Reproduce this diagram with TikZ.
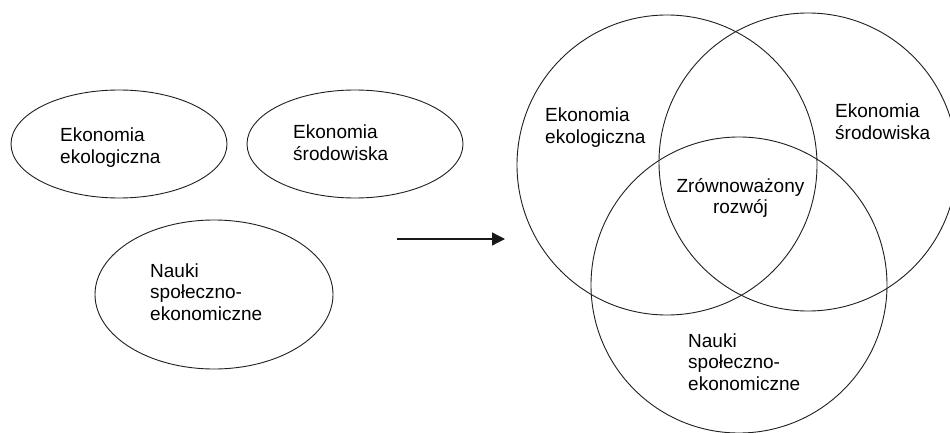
\documentclass[tikz,border=0pt]{standalone}
\usepackage{fontspec}
\setmainfont{Liberation Sans}
\usetikzlibrary{shapes.geometric,arrows.meta}
\tikzset{
  shapeline/.style={draw=black!88, line width=0.9pt},
  blob/.style={shapeline, ellipse, inner sep=0pt, minimum width=216pt, minimum height=108pt},
  ring/.style={shapeline, circle, inner sep=0pt},
  lbl/.style={inner sep=0pt, font=\fontsize{19}{21.8}\selectfont, text=black},
}
\newcommand{\tl}[1]{\begin{tabular}[t]{@{}l@{}}#1\end{tabular}}
\newcommand{\tc}[1]{\begin{tabular}[t]{@{}c@{}}#1\end{tabular}}
\begin{document}
\begin{tikzpicture}[x=1pt,y=-1pt]
\useasboundingbox[fill=white] (0,0) rectangle (950,433);
% left ellipses
\node[blob] (e1) at (119,144) {};
\node[blob] (e2) at (355,144) {};
\node[blob, minimum width=238pt, minimum height=149pt] (e3) at (214,294.5) {};
\node[lbl, anchor=base west] (t1) at (60,142) {\tl{Ekonomia\\ekologiczna}};
\node[lbl, anchor=base west] (t2) at (293,138.5) {\tl{Ekonomia\\środowiska}};
\node[lbl, anchor=base west] (t3) at (150,277) {\tl{Nauki\\społeczno-\\ekonomiczne}};
% arrow
\coordinate (a1) at (397,239);
\coordinate (a2) at (505,239);
\draw[black!90, line width=1.3pt, -{Triangle[length=13pt,width=13pt]}] (a1) -- (a2);
% venn circles
\node[ring, minimum size=300pt] (c1) at (667,165) {};
\node[ring, minimum size=298pt] (c2) at (808,162) {};
\node[ring, minimum size=296pt] (c3) at (739,285) {};
\node[lbl, anchor=base west] (v1) at (545,122) {\tl{Ekonomia\\ekologiczna}};
\node[lbl, anchor=base west] (v2) at (835,118) {\tl{Ekonomia\\środowiska}};
\node[lbl, anchor=base] (v0) at (740.5,192) {\tc{Zrównoważony\\rozwój}};
\node[lbl, anchor=base west] (v3) at (688,347) {\tl{Nauki\\społeczno-\\ekonomiczne}};
\end{tikzpicture}
\end{document}
